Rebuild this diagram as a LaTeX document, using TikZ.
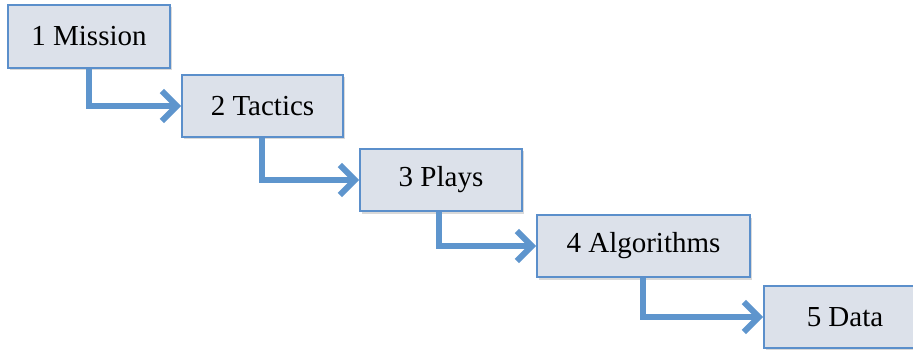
\documentclass[tikz,border=0pt]{standalone}
\usepackage{fontspec}
\setmainfont{Liberation Serif}
\usetikzlibrary{arrows.meta,shadows}
\definecolor{boxfill}{HTML}{DCE1EA}
\definecolor{boxline}{HTML}{5B8FCB}
\definecolor{arrowblue}{HTML}{5E95CD}
\tikzset{
  stepbox/.style={draw=boxline, line width=2pt, fill=boxfill, inner sep=0pt,
    font=\fontsize{29}{31}\selectfont, text=black,
    drop shadow={shadow xshift=2pt, shadow yshift=-2.5pt, opacity=0.25, fill=black!60}},
  flow/.style={draw=arrowblue, line width=6pt, line join=miter,
    -{Straight Barb[length=15pt, width=30pt, line width=6pt]}}
}
\begin{document}
\begin{tikzpicture}[x=1pt, y=-1pt]
\useasboundingbox (0,0) rectangle (913,350);
\clip (0,0) rectangle (913,350);
\node[stepbox, minimum width=162pt, minimum height=63pt] (b1) at (89,36.5) {1 Mission};
\node[stepbox, minimum width=161pt, minimum height=62pt] (b2) at (262.5,106) {2 Tactics};
\node[stepbox, minimum width=162pt, minimum height=62pt] (b3) at (441,180) {3 Plays};
\node[stepbox, minimum width=213pt, minimum height=62pt] (b4) at (643.5,246) {4 Algorithms};
\node[stepbox, minimum width=200pt, minimum height=62pt, anchor=west] (b5) at (763,317) {\hspace*{2pt}5 Data\hspace*{40pt}};
\draw[flow] ([xshift=82pt]b1.south west) |- (b2.west);
\draw[flow] ([xshift=81pt]b2.south west) |- (b3.west);
\draw[flow] ([xshift=80pt]b3.south west) |- (b4.west);
\draw[flow] ([xshift=107pt]b4.south west) |- (b5.west);
\end{tikzpicture}
\end{document}
